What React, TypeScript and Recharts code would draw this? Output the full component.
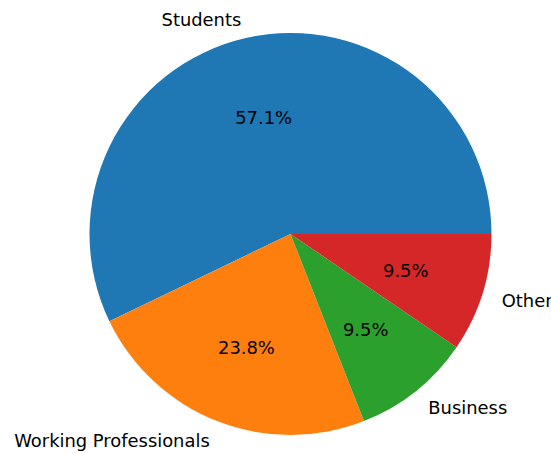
import { PieChart, Pie, Cell } from "recharts";

// ─── Data ────────────────────────────────────────────────────────────────────

const categories = ["Students", "Working Professionals", "Business", "Other"];
const counts = [12, 5, 2, 2];
const colors = ["#1f77b4", "#ff7f0e", "#2ca02c", "#d62728"];

const data = categories.map((name, i) => ({ name, value: counts[i] }));

const RADIAN = Math.PI / 180;
const FONT = "DejaVu Sans, sans-serif";
const FONT_SIZE = 17.9;

// matplotlib-style labels: name at 1.1r, percentage at 0.6r
function renderLabel(props: any) {
  const { cx, cy, midAngle, outerRadius, percent, name } = props;
  const cos = Math.cos(-midAngle * RADIAN);
  const sin = Math.sin(-midAngle * RADIAN);
  const lx = cx + outerRadius * 1.1 * cos;
  const ly = cy + outerRadius * 1.1 * sin;
  const px = cx + outerRadius * 0.6 * cos;
  const py = cy + outerRadius * 0.6 * sin;
  return (
    <g>
      <text
        x={lx}
        y={ly + 1}
        textAnchor={cos > 0 ? "start" : "end"}
        dominantBaseline="central"
        fill="#000"
        fontFamily={FONT}
        fontSize={FONT_SIZE}
      >
        {name}
      </text>
      <text
        x={px}
        y={py + 1}
        textAnchor="middle"
        dominantBaseline="central"
        fill="#000"
        fontFamily={FONT}
        fontSize={FONT_SIZE}
      >
        {`${(percent * 100).toFixed(1)}%`}
      </text>
    </g>
  );
}

export default function App() {
  return (
    <div style={{ position: "absolute", left: 0, top: 0, background: "#fff" }}>
      <PieChart
        width={551}
        height={453}
        margin={{ top: 0, right: 0, bottom: 0, left: 0 }}
      >
        <Pie
          data={data}
          dataKey="value"
          nameKey="name"
          cx={290.5}
          cy={234}
          outerRadius={201}
          startAngle={0}
          endAngle={360}
          stroke="none"
          label={renderLabel}
          labelLine={false}
          isAnimationActive={false}
        >
          {data.map((d, i) => (
            <Cell key={d.name} fill={colors[i]} />
          ))}
        </Pie>
      </PieChart>
    </div>
  );
}
